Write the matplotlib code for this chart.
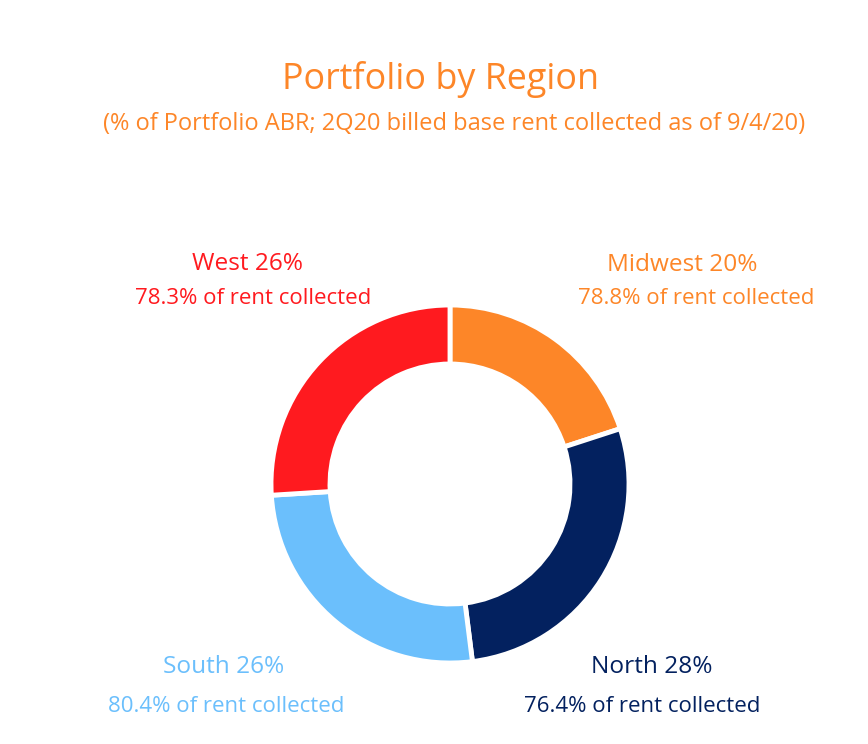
import matplotlib
matplotlib.use("Agg")
import matplotlib.pyplot as plt

regions = ["Midwest", "North", "South", "West"]
shares = [20, 28, 26, 26]
collected = [78.8, 76.4, 80.4, 78.3]
colors = ["#FD8628", "#03215F", "#6BBFFC", "#FF1A1F"]

title = "Portfolio by Region"
subtitle = "(% of Portfolio ABR; 2Q20 billed base rent collected as of 9/4/20)"

# label centres in pixel coords (x, y from top)
label_pos = {"Midwest": (682, 265), "North": (652, 667),
             "South": (224, 667), "West": (247, 264)}
sub_pos = {"Midwest": (696, 299), "North": (642, 706),
           "South": (226, 706), "West": (253, 299)}

plt.rcParams['font.family'] = ['Open Sans', 'DejaVu Sans']

W, H = 868, 744
fig = plt.figure(figsize=(W / 100, H / 100), dpi=100)
ax = fig.add_axes([0, 0, 1, 1])
ax.set_xlim(0, W)
ax.set_ylim(0, H)
ax.set_aspect('equal')
ax.axis('off')

ax.pie(shares, colors=colors, startangle=90, counterclock=False,
       center=(450, H - 484), radius=179,
       wedgeprops=dict(width=59, edgecolor='white', linewidth=3.5))
ax.set_xlim(0, W)
ax.set_ylim(0, H)

ax.text(440, H - 80, title, color="#FD8628", fontsize=25.8,
        ha='center', va='center')
ax.text(454, H - 124, subtitle, color="#FD8628", fontsize=17,
        ha='center', va='center')

for reg, sh, col, c in zip(regions, shares, collected, colors):
    x, y = label_pos[reg]
    ax.text(x, H - y, f"{reg} {sh}%", color=c, fontsize=17.6,
            ha='center', va='center')
    x, y = sub_pos[reg]
    ax.text(x, H - y, f"{col}% of rent collected", color=c, fontsize=16,
            ha='center', va='center')

fig.savefig("out.png", dpi=100)
